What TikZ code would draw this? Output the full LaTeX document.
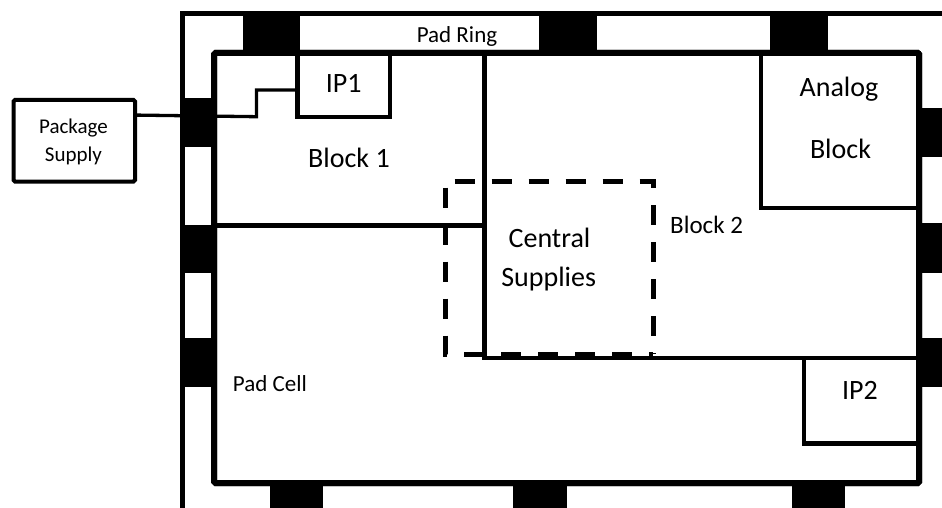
\documentclass[tikz,border=0pt]{standalone}
\usepackage{fontspec}
\setmainfont{Carlito}
\usetikzlibrary{calc}
\begin{document}
\begin{tikzpicture}[x=1pt,y=-1pt,
  wall/.style={line width=5pt},
  die/.style={line width=6pt, rounded corners=1.5pt},
  part/.style={line width=4.5pt},
  wire/.style={line width=3.3pt},
  padcell/.style={fill=black},
  dashbox/.style={line width=5pt, dash pattern=on 20pt off 17pt},
  bigtxt/.style={font=\fontsize{28}{34}\selectfont, inner sep=0pt, anchor=base},
  midtxt/.style={font=\fontsize{25}{30}\selectfont, inner sep=0pt, anchor=base west},
  smalltxt/.style={font=\fontsize{23}{28}\selectfont, inner sep=0pt, anchor=base},
  tinytxt/.style={font=\fontsize{21}{25}\selectfont, inner sep=0pt, anchor=base}]
\useasboundingbox (0,0) rectangle (942,508);

% pad ring outer boundary
\draw[wall] (182.5,508) -- (182.5,13.5) -- (942,13.5);
% die boundary
\draw[die] (214,53) rectangle (919,483);

% Block 1 / Block 2 split
\draw[part] (214,225.7) -- (484.5,225.7);
\draw[part] (484.5,53) -- (484.5,358) -- (919,358);

% Analog block
\node[draw, part, minimum width=158pt, minimum height=155pt, inner sep=0pt] (analog) at (840,130.5) {};
% IP1 block
\node[draw, part, minimum width=92.5pt, minimum height=64pt, inner sep=0pt] (ip1) at (343.75,85) {};
% IP2 block
\node[draw, part, minimum width=115pt, minimum height=85.5pt, inner sep=0pt] (ip2) at (861.5,400.75) {};
% redraw die edge over block tops
\draw[die] (214,53) rectangle (919,483);

% central supplies dashed region
\draw[dashbox, dash phase=28pt] (445.5,181.7) -- (653,181.7) -- (653,354);
\draw[dashbox, dash phase=31pt] (445.5,181.7) -- (445.5,354) -- (653,354);

% package supply
\node[draw, line width=4pt, rounded corners=1.5pt, minimum width=121.5pt, minimum height=81.5pt, inner sep=0pt] (pkg) at (74.25,140.75) {};
\coordinate (ip1in) at (297.5,90);
\draw[wire] ($(pkg.north east)!0.2!(pkg.south east)$) -- (256.5,116.7) -- (256.5,90) -- (ip1in);

% pads top
\fill[padcell] (243,16) rectangle (300,53);
\fill[padcell] (539,16) rectangle (597,53);
\fill[padcell] (770,16) rectangle (828,53);
% pads left
\fill[padcell] (180,98) rectangle (216,147);
\fill[padcell] (180,225) rectangle (216,273);
\fill[padcell] (180,338) rectangle (216,387);
% pads right
\fill[padcell] (918,108) rectangle (942,157);
\fill[padcell] (918,223) rectangle (942,273);
\fill[padcell] (918,338) rectangle (942,387);
% pads bottom
\fill[padcell] (270,485) rectangle (323,508);
\fill[padcell] (513,485) rectangle (567,508);
\fill[padcell] (792,485) rectangle (845,508);

% labels
\node[smalltxt] (padring) at (457,42.5) {Pad Ring};
\node[bigtxt] (ip1t) at (343.75,92.5) {IP1};
\node[bigtxt] (b1) at (349,167) {Block 1};
\node[bigtxt] (an1) at (839,96.7) {Analog};
\node[bigtxt] (an2) at (840.5,158.3) {Block};
\node[bigtxt] (cs1) at (549.5,247.3) {Central};
\node[bigtxt] (cs2) at (548.7,286) {Supplies};
\node[midtxt] (b2) at (670,233.3) {Block 2};
\node[bigtxt] (ip2t) at (860,399.3) {IP2};
\node[smalltxt, anchor=base west] (padcell) at (232.7,391.7) {Pad Cell};
\node[tinytxt] (pk1) at (73.5,133.3) {Package};
\node[tinytxt] (pk2) at (73.5,161) {Supply};
\end{tikzpicture}
\end{document}
